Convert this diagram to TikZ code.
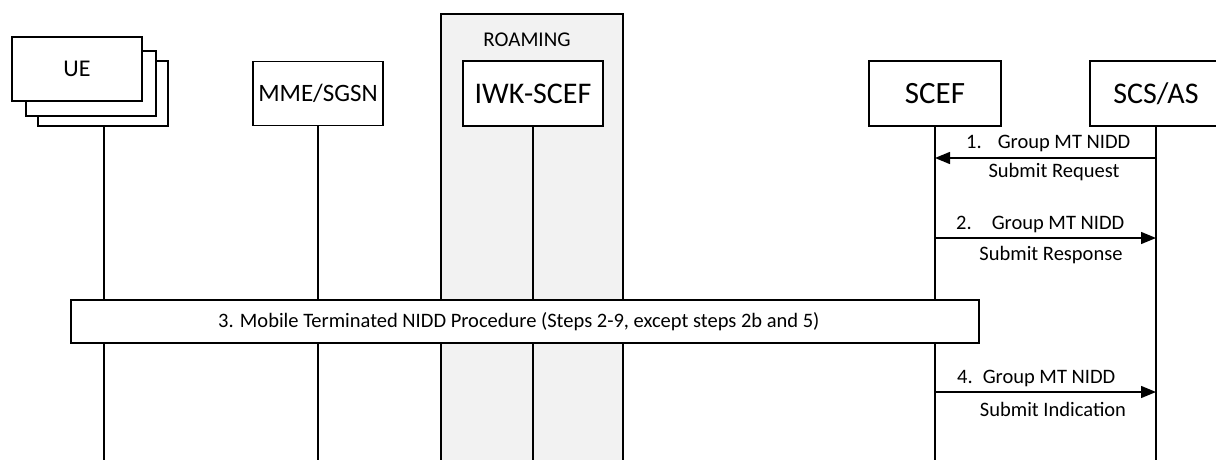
\documentclass[tikz,border=0pt]{standalone}
\usepackage{fontspec}
\setmainfont{Carlito}
\usetikzlibrary{arrows.meta}
\definecolor{roamgray}{HTML}{F2F2F2}
\tikzset{
  ent/.style={draw=black, line width=1.4pt, fill=white, inner sep=0pt, minimum height=64pt},
  life/.style={line width=1.4pt},
  msg/.style={line width=1.4pt, -{Triangle[length=15pt,width=12pt]}},
  lbl/.style={font=\fontsize{20.5}{24}\selectfont, inner sep=0pt},
}
\begin{document}
\begin{tikzpicture}[x=1pt,y=-1pt]
\useasboundingbox (0,0) rectangle (1216,460);
% roaming area
\filldraw[fill=roamgray, draw=black, line width=1.4pt] (441,460) -- (441,14) -- (623,14) -- (623,460);
\node[font=\fontsize{21}{24}\selectfont] (roam) at (527,40) {ROAMING};
% UE stacked boxes
\draw[line width=1.4pt, fill=white] (38,61) rectangle (168,126);
\draw[line width=1.4pt, fill=white] (26,51) rectangle (156,116);
\node[ent, minimum width=130pt, font=\fontsize{24}{28}\selectfont] (ue) at (77,69) {UE};
\node[ent, minimum width=130pt, minimum height=64pt, font=\fontsize{25}{28}\selectfont] (mme) at (318,93.5) {MME/SGSN};
\node[ent, minimum width=140pt, minimum height=65pt, font=\fontsize{30}{34}\selectfont] (iwk) at (533,93.5) {IWK-SCEF};
\node[ent, minimum width=132pt, minimum height=65pt, font=\fontsize{31}{34}\selectfont] (scef) at (935,93.5) {SCEF};
\node[ent, minimum width=132pt, minimum height=65pt, font=\fontsize{30}{34}\selectfont] (scs) at (1156,93.5) {SCS/AS};
% lifeline ends
\coordinate (ueE) at (104,460);
\coordinate (mmeE) at (318,460);
\coordinate (iwkE) at (533,460);
\coordinate (scefE) at (935,460);
\coordinate (scsE) at (1156,460);
\draw[life] (104,126) -- (ueE);
\draw[life] (mme.south) -- (mmeE);
\draw[life] (iwk.south) -- (iwkE);
\draw[life] (scef.south) -- (scefE);
\draw[life] (scs.south) -- (scsE);
% step 3 box
\node[draw=black, line width=1.4pt, fill=white, minimum width=908pt, minimum height=43pt, inner sep=0pt] (proc) at (525,321.5) {};
\node[lbl, anchor=west] (proctxt) at (218,321.5) {3. Mobile Terminated NIDD Procedure (Steps 2-9, except steps 2b and 5)};
% message points
\coordinate (m1s) at (1156,158);
\coordinate (m1e) at (935,158);
\coordinate (m2s) at (935,238);
\coordinate (m2e) at (1156,238);
\coordinate (m4s) at (935,392);
\coordinate (m4e) at (1156,392);
\draw[msg] (m1s) -- (m1e);
\draw[msg] (m2s) -- (m2e);
\draw[msg] (m4s) -- (m4e);
\node[lbl, anchor=west] (l1a) at (966,143) {1.\hspace{16pt}Group MT NIDD};
\node[lbl] (l1b) at (1054,172) {Submit Request};
\node[lbl, anchor=west] (l2a) at (956,224) {2.\hspace{20pt}Group MT NIDD};
\node[lbl] (l2b) at (1051,255) {Submit Response};
\node[lbl, anchor=west] (l4a) at (957,378) {4.\hspace{10pt}Group MT NIDD};
\node[lbl] (l4b) at (1053,409) {Submit Indication};
\end{tikzpicture}
\end{document}
